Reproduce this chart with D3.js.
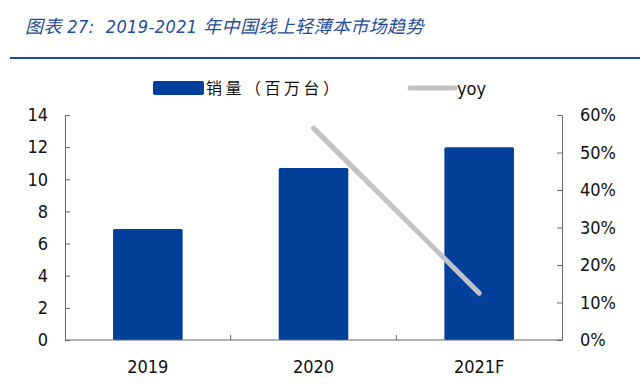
<!DOCTYPE html>
<html>
<head>
<meta charset="utf-8">
<script src="https://cdn.jsdelivr.net/npm/d3@7"></script>
<style>
  body { margin: 0; background: #fff; }
  svg { display: block; font-family: "Noto Sans CJK SC", "DejaVu Sans", sans-serif; }
</style>
</head>
<body>
<div id="chart"></div>
<script>
const years = ["2019", "2020", "2021F"];
const sales = [6.9, 10.7, 12.0];
const yoyYears = ["2020", "2021F"];
const yoy = [0.565, 0.125];
const leftTicks = [0, 2, 4, 6, 8, 10, 12, 14];
const rightTicks = [0, 0.1, 0.2, 0.3, 0.4, 0.5, 0.6];

const width = 644, height = 387;
const margin = { left: 65, right: 82, top: 115, bottom: 47 };
const blue = "#00409a";
const axisColor = "#666";
const numFont = "DejaVu Sans Condensed, sans-serif";

const svg = d3.select("#chart").append("svg")
  .attr("width", width)
  .attr("height", height);

// title
svg.append("text")
  .attr("x", 25)
  .attr("y", 33)
  .attr("fill", "#1f4e9c")
  .attr("font-size", 18)
  .attr("font-style", "italic")
  .attr("font-family", "DejaVu Sans Condensed, Noto Sans CJK SC, sans-serif")
  .attr("letter-spacing", 0.4)
  .attr("xml:space", "preserve")
  .text("图表 27:  2019-2021 年中国线上轻薄本市场趋势");

svg.append("line")
  .attr("x1", 10).attr("x2", 640)
  .attr("y1", 58).attr("y2", 58)
  .attr("stroke", "#1f4e9c")
  .attr("stroke-width", 2);

const x = d3.scaleBand()
  .domain(years)
  .range([margin.left, width - margin.right])
  .paddingInner(0.58)
  .paddingOuter(0.29);

const y = d3.scaleLinear()
  .domain([0, 14])
  .range([height - margin.bottom, margin.top]);

const y2 = d3.scaleLinear()
  .domain([0, 0.6])
  .range([height - margin.bottom, margin.top]);

// bars
svg.append("g").selectAll("rect")
  .data(years)
  .join("rect")
  .attr("x", d => x(d))
  .attr("width", x.bandwidth())
  .attr("y", (d, i) => y(sales[i]))
  .attr("height", (d, i) => y(0) - y(sales[i]))
  .attr("rx", 1.5)
  .attr("fill", blue);

// yoy line
const line = d3.line()
  .x((d, i) => x(yoyYears[i]) + x.bandwidth() / 2)
  .y(d => y2(d));

svg.append("path")
  .datum(yoy)
  .attr("d", line)
  .attr("fill", "none")
  .attr("stroke", "#c3c3c3")
  .attr("stroke-width", 5)
  .attr("stroke-linecap", "round");

// left axis
const leftAxis = svg.append("g")
  .attr("transform", `translate(${margin.left},0)`)
  .call(d3.axisLeft(y).tickValues(leftTicks).tickSizeInner(-5).tickSizeOuter(0).tickPadding(17));

// right axis
const rightAxis = svg.append("g")
  .attr("transform", `translate(${width - margin.right},0)`)
  .call(d3.axisRight(y2).tickValues(rightTicks).tickFormat(d3.format(".0%")).tickSizeInner(-5).tickSizeOuter(0).tickPadding(18));

// bottom axis with ticks at band boundaries
const bottom = svg.append("g")
  .attr("transform", `translate(0,${height - margin.bottom})`);
bottom.append("line")
  .attr("x1", margin.left).attr("x2", width - margin.right)
  .attr("stroke", axisColor);
const step = x.step();
bottom.selectAll("line.tick")
  .data(years.slice(1))
  .join("line")
  .attr("class", "tick")
  .attr("x1", d => x(d) - x.paddingInner() * step / 2)
  .attr("x2", d => x(d) - x.paddingInner() * step / 2)
  .attr("y1", 0).attr("y2", -5)
  .attr("stroke", axisColor);
bottom.selectAll("text")
  .data(years)
  .join("text")
  .attr("x", d => x(d) + x.bandwidth() / 2)
  .attr("y", 33)
  .attr("text-anchor", "middle")
  .attr("font-size", 18)
  .attr("font-family", numFont)
  .attr("fill", "#111")
  .text(d => d);

[leftAxis, rightAxis].forEach(g => {
  g.select(".domain").attr("stroke", axisColor);
  g.selectAll(".tick line").attr("stroke", axisColor);
  g.selectAll(".tick text")
    .attr("font-size", 18)
    .attr("font-family", numFont)
    .attr("fill", "#111");
});

// legend
const legend = svg.append("g");
legend.append("rect")
  .attr("x", 153).attr("y", 81)
  .attr("width", 51).attr("height", 14)
  .attr("rx", 2)
  .attr("fill", blue);
legend.append("text")
  .attr("x", 206).attr("y", 94)
  .attr("font-size", 16)
  .attr("letter-spacing", 3.5)
  .attr("fill", "#111")
  .text("销量（百万台）");
legend.append("line")
  .attr("x1", 410).attr("x2", 455)
  .attr("y1", 88).attr("y2", 88)
  .attr("stroke", "#c3c3c3")
  .attr("stroke-width", 5)
  .attr("stroke-linecap", "round");
legend.append("text")
  .attr("x", 457).attr("y", 95)
  .attr("font-size", 18)
  .attr("font-family", numFont)
  .attr("fill", "#111")
  .text("yoy");
</script>
</body>
</html>
